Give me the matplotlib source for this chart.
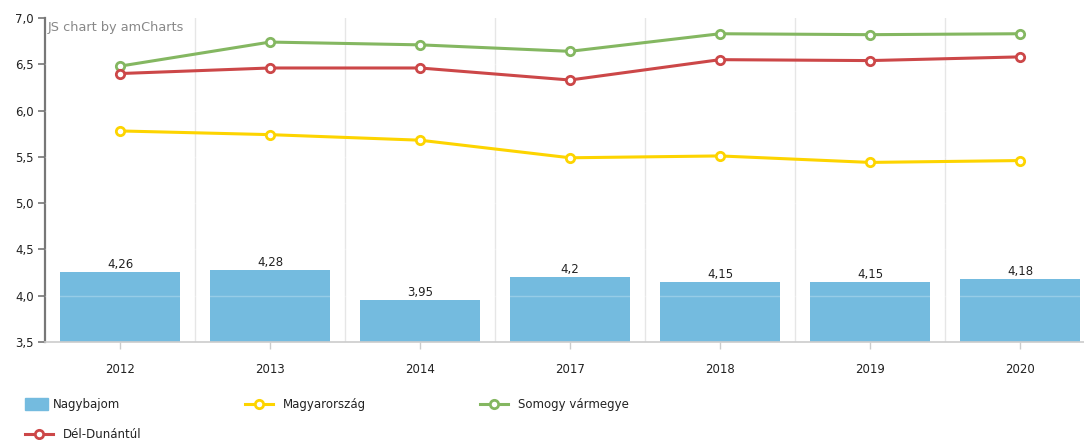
import matplotlib.pyplot as plt
from matplotlib.lines import Line2D
from matplotlib.patches import Rectangle
from matplotlib.ticker import FuncFormatter

# Data
years = ['2012', '2013', '2014', '2017', '2018', '2019', '2020']
nagybajom = [4.26, 4.28, 3.95, 4.2, 4.15, 4.15, 4.18]
magyarorszag = [5.78, 5.74, 5.68, 5.49, 5.51, 5.44, 5.46]
somogy = [6.48, 6.74, 6.71, 6.64, 6.83, 6.82, 6.83]
del_dunantul = [6.40, 6.46, 6.46, 6.33, 6.55, 6.54, 6.58]

W, H = 1084, 440
fig = plt.figure(figsize=(W / 100, H / 100), dpi=100)
fig.patch.set_facecolor('white')

# plot area runs slightly past the right edge, like the reference
ax = fig.add_axes([45 / W, 1 - 342 / H, 1050 / W, 324 / H])
ax.set_facecolor('white')

bar_color = '#74bbdf'
yellow = '#fdd400'
green = '#84b761'
red = '#cc4748'

x = list(range(len(years)))
ax.bar(x, nagybajom, width=0.8, color=bar_color, zorder=2)
for xi, v in zip(x, nagybajom):
    ax.text(xi, v + 0.012, f'{v:g}'.replace('.', ','), ha='center', va='bottom',
            fontsize=8.5, color='#222222', zorder=5)

# faint grid lines over the bars
for yv in [4.0, 4.5, 5.0, 5.5, 6.0, 6.5]:
    ax.axhline(yv, color='white', alpha=0.25, lw=1, zorder=3)
for b in [i + 0.5 for i in x[:-1]]:
    ax.axvline(b, color='#e6e6e6', lw=1, zorder=1)

marker_kw = dict(marker='o', markersize=6, markerfacecolor='white',
                 markeredgewidth=2.0, lw=2.2, zorder=4)
ax.plot(x, magyarorszag, color=yellow, markeredgecolor=yellow, **marker_kw)
ax.plot(x, somogy, color=green, markeredgecolor=green, **marker_kw)
ax.plot(x, del_dunantul, color=red, markeredgecolor=red, **marker_kw)

ax.set_xlim(-0.5, len(years) - 0.5)
ax.set_ylim(3.5, 7.0)
ax.set_yticks([3.5, 4.0, 4.5, 5.0, 5.5, 6.0, 6.5, 7.0])
ax.yaxis.set_major_formatter(FuncFormatter(lambda v, p: f'{v:.1f}'.replace('.', ',')))
ax.set_xticks(x)
ax.set_xticklabels(years)

for s in ['top', 'right']:
    ax.spines[s].set_visible(False)
ax.spines['left'].set_color('#777777')
ax.spines['left'].set_linewidth(1.6)
ax.spines['bottom'].set_color('#cccccc')
ax.spines['bottom'].set_linewidth(1.2)
ax.tick_params(axis='y', colors='#777777', labelcolor='#222222', length=5, width=1.2,
               labelsize=8.5, pad=3)
ax.tick_params(axis='x', colors='#cccccc', labelcolor='#222222', length=5, width=1,
               labelsize=8.5, pad=10)

fig.text(48 / W, 1 - 27 / H, 'JS chart by amCharts', fontsize=9.3, color='#888888',
         ha='left', va='center')

# legend, drawn by hand in pixel positions
def fx(px):
    return px / W

def fy(py):
    return 1 - py / H

fig.patches.append(Rectangle((fx(25), fy(410)), 23 / W, 12 / H, color=bar_color,
                             transform=fig.transFigure, figure=fig))
fig.text(fx(53), fy(404), 'Nagybajom', fontsize=8.5, color='#222222', va='center')

legend_lines = [
    (245, 404, yellow, 'Magyarország'),
    (480, 404, green, 'Somogy vármegye'),
    (25, 434, red, 'Dél-Dunántúl'),
]
for px, py, c, label in legend_lines:
    fig.lines.append(Line2D([fx(px), fx(px + 28)], [fy(py), fy(py)], color=c, lw=2.2,
                            transform=fig.transFigure, figure=fig))
    fig.lines.append(Line2D([fx(px + 14)], [fy(py)], marker='o', markersize=6,
                            markerfacecolor='white', markeredgecolor=c,
                            markeredgewidth=2.0, transform=fig.transFigure, figure=fig))
    fig.text(fx(px + 38), fy(py), label, fontsize=8.5, color='#222222', va='center')

fig.savefig('out.png', dpi=100, facecolor='white')
